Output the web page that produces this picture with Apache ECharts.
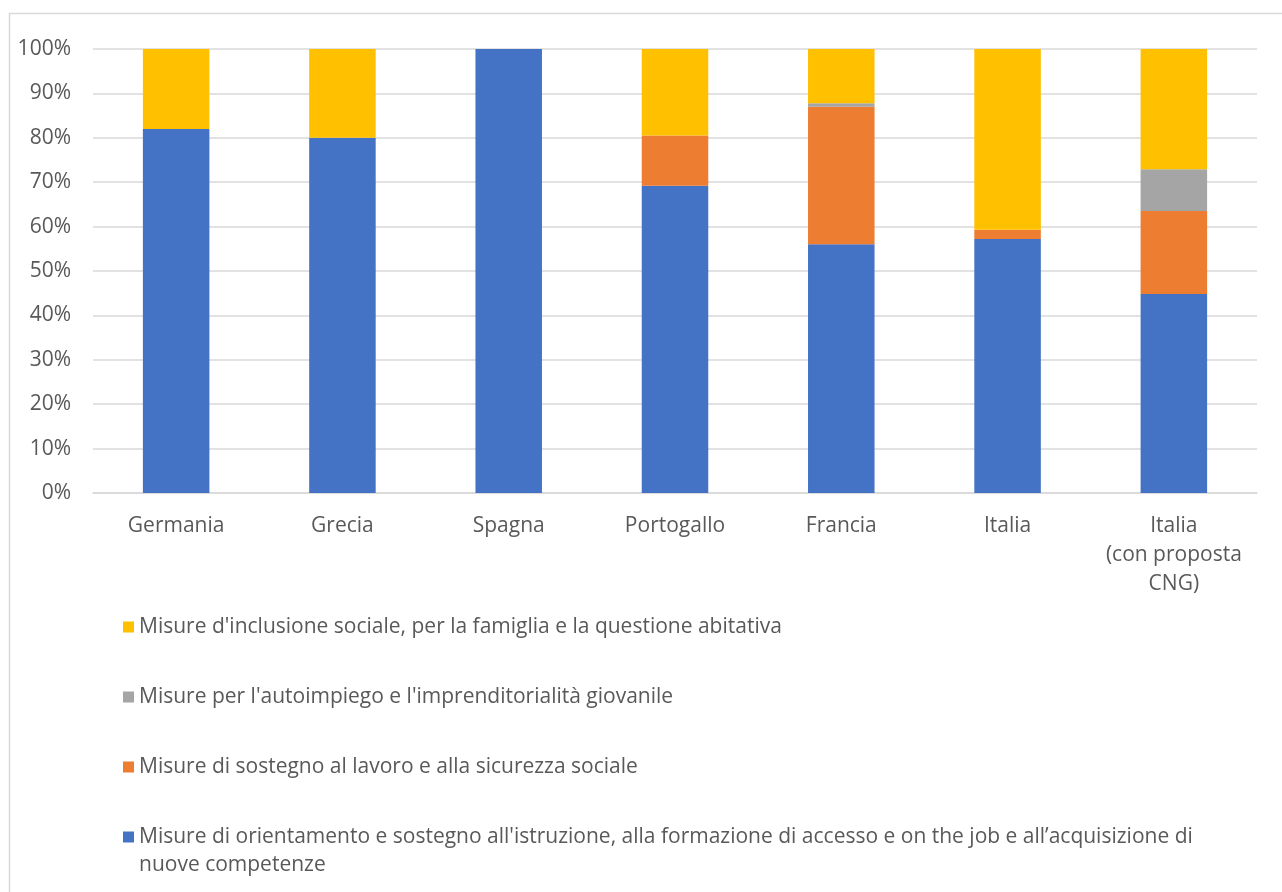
<!DOCTYPE html>
<html><head><meta charset="utf-8">
<script src="https://cdn.jsdelivr.net/npm/echarts@6/dist/echarts.min.js"></script>
<style>html,body{margin:0;padding:0;background:#fff}#c{width:1282px;height:892px}</style>
</head><body><div id="c"></div>
<script>
const categories = ['Germania','Grecia','Spagna','Portogallo','Francia','Italia','Italia\n(con proposta\nCNG)'];
const seriesNames = [
  "Misure di orientamento e sostegno all'istruzione, alla formazione di accesso e on the job e all\u2019acquisizione di nuove competenze",
  "Misure di sostegno al lavoro e alla sicurezza sociale",
  "Misure per l'autoimpiego e l'imprenditorialit\u00e0 giovanile",
  "Misure d'inclusione sociale, per la famiglia e la questione abitativa"
];
const istruzione = [82, 80, 100, 69.2, 56.0, 57.2, 44.8];
const lavoro     = [0, 0, 0, 11.3, 31.0, 2.1, 18.7];
const autoimpiego= [0, 0, 0, 0, 0.8, 0, 9.4];
const inclusione = [18, 20, 0, 19.5, 12.2, 40.7, 27.1];
const colors = ['#4472C4','#ED7D31','#A5A5A5','#FFC000'];
const FONT = 'Open Sans';
const FS = 21;
const wrapTail = ' nuove competenze';
const chart = echarts.init(document.getElementById('c'));
const vals = [istruzione, lavoro, autoimpiego, inclusione];
chart.setOption({
  animation:false,
  textStyle:{fontFamily:FONT},
  graphic:[
    {type:'rect',shape:{x:9.5,y:13.5,width:1290,height:900},style:{fill:'none',stroke:'#d9d9d9',lineWidth:1.5},silent:true},
    {type:'text',left:139,top:855,style:{text:wrapTail.trim(),font:FS+'px "'+FONT+'"',fill:'#595959'},silent:true}
  ],
  grid:{left:93,right:25,top:49,bottom:399,containLabel:false},
  legend:{
    orient:'vertical', left:123, top:614, itemWidth:11, itemHeight:11, itemGap:44,
    icon:'rect', padding:0,
    data:[seriesNames[3],seriesNames[2],seriesNames[1],seriesNames[0]],
    formatter:(n)=> n.endsWith(wrapTail) ? n.slice(0, n.length - wrapTail.length) : n,
    textStyle:{fontFamily:FONT,fontSize:FS,color:'#595959',lineHeight:26}
  },
  xAxis:{type:'category',data:categories,
    axisLine:{lineStyle:{color:'#d9d9d9',width:1.5}},axisTick:{show:false},
    axisLabel:{interval:0,fontFamily:FONT,fontSize:FS,color:'#595959',margin:19,lineHeight:29}},
  yAxis:{type:'value',min:0,max:100,interval:10,
    axisLabel:{formatter:'{value}%',fontFamily:FONT,fontSize:FS,color:'#595959',margin:22},
    splitLine:{lineStyle:{color:'#d9d9d9',width:1.5}},axisLine:{show:false},axisTick:{show:false}},
  series: vals.map((v,i)=>({name:seriesNames[i],type:'bar',stack:'t',data:v,barWidth:'40%',
    itemStyle:{color:colors[i]}}))
});
</script></body></html>
